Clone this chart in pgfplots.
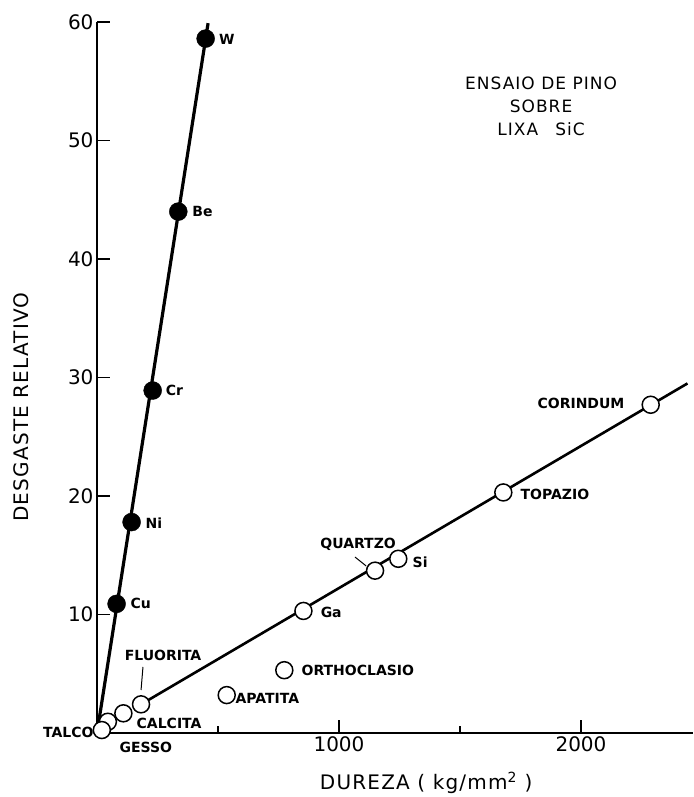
\documentclass[border=0pt]{standalone}
\usepackage{fontspec}
\setmainfont{DejaVu Sans}
\newfontfamily\spaced[LetterSpace=6]{DejaVu Sans}
\usepackage{pgfplots}
\pgfplotsset{compat=1.18}
\newcommand{\lab}{\fontsize{14}{16}\selectfont\bfseries}
\begin{document}
\begin{tikzpicture}
\path[use as bounding box] (-97pt,-64pt) rectangle (596pt,733pt);
\begin{axis}[
 anchor=south west, at={(0pt,0pt)},
 x=0.242pt, y=11.85pt,
 xmin=0, xmax=2463, ymin=0, ymax=60,
 axis x line=bottom, axis y line=left,
 axis line style={-, line width=1.8pt},
 xtick={1000,2000}, minor xtick={500,1500},
 ytick={10,20,...,60},
 tick align=inside,
 major tick length=13pt, minor tick length=7pt,
 every tick/.style={line width=1.5pt, black},
 tick label style={font=\fontsize{20}{24}\selectfont},
 /pgf/number format/assume math mode=true,
 /pgf/number format/1000 sep={},
 clip=false,
]
\addplot[black, line width=3.2pt] coordinates {(0,0) (459,59.9)};
\addplot[black, line width=2.6pt] coordinates {(182,2.42) (2440,29.5)};
\addplot[only marks, mark=*, mark size=9pt, mark options={fill=black, draw=black}]
 coordinates {(81,10.9) (143,17.8) (230,28.9) (336,44.0) (449,58.6)};
\addplot[only marks, mark=*, mark size=8.5pt, mark options={fill=white, draw=black, line width=1.5pt}]
 coordinates {(182,2.42) (109,1.66) (45,0.95) (20,0.25) (536,3.2) (774,5.3) (853,10.3) (1149,13.7) (1245,14.7) (1679,20.3) (2288,27.7)};
% metal labels
\node[anchor=west, font=\lab] at (axis cs:490,58.5) {W};
\node[anchor=west, font=\lab] at (axis cs:380,44.0) {Be};
\node[anchor=west, font=\lab] at (axis cs:270,28.9) {Cr};
\node[anchor=west, font=\lab] at (axis cs:186,17.7) {Ni};
\node[anchor=west, font=\lab] at (axis cs:124,10.9) {Cu};
% mineral labels
\node[anchor=east, font=\lab] at (axis cs:0,0.08) {TALCO};
\node[font=\lab] at (axis cs:202,-1.18) {GESSO};
\node[font=\lab] at (axis cs:298,0.84) {CALCITA};
\node[font=\lab] at (axis cs:273,6.58) {FLUORITA};
\draw[line width=1pt] (axis cs:190,5.57) -- (axis cs:182,3.63);
\node[anchor=west, font=\lab] at (axis cs:558,2.95) {APATITA};
\node[anchor=west, font=\lab] at (axis cs:831,5.32) {ORTHOCLASIO};
\node[anchor=west, font=\lab] at (axis cs:910,10.2) {Ga};
\node[font=\lab] at (axis cs:1079,15.9) {QUARTZO};
\draw[line width=1pt] (axis cs:1066,14.85) -- (axis cs:1112,14.1);
\node[anchor=west, font=\lab] at (axis cs:1290,14.4) {Si};
\node[anchor=west, font=\lab] at (axis cs:1736,20.1) {TOPAZIO};
\node[anchor=east, font=\lab] at (axis cs:2194,27.8) {CORINDUM};
% title
\node[align=center, font=\spaced\fontsize{17}{23}\selectfont] at (axis cs:1835,52.9) {ENSAIO DE PINO\\SOBRE\\LIXA\quad SiC};
% axis titles
\node[rotate=90, font=\spaced\fontsize{20}{24}\selectfont] at (axis cs:-314,27.5) {DESGASTE RELATIVO};
\node[font=\spaced\fontsize{20}{24}\selectfont] at (axis cs:1360,-4.22) {DUREZA ( kg/mm\textsuperscript{2} )};
\end{axis}
\end{tikzpicture}
\end{document}
